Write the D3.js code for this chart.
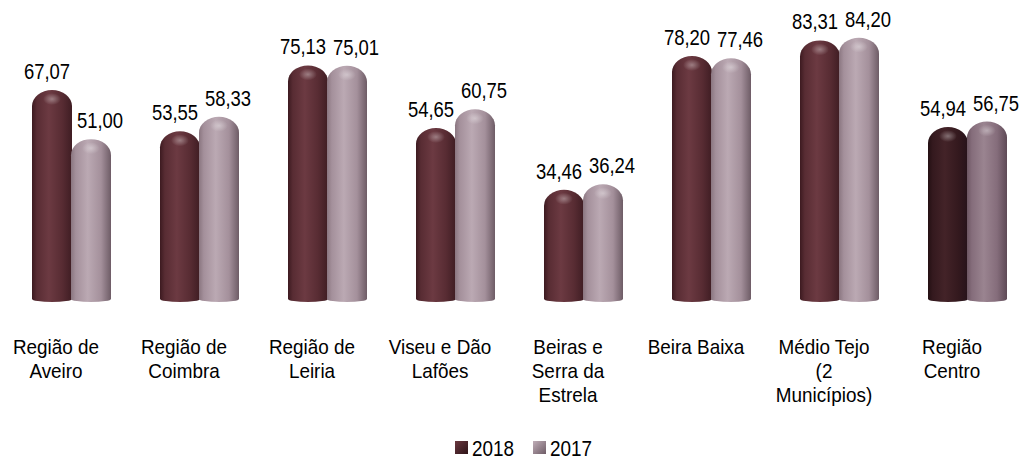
<!DOCTYPE html>
<html>
<head>
<meta charset="utf-8">
<script src="https://cdn.jsdelivr.net/npm/d3@7"></script>
<style>
  body { margin: 0; background: #fff; }
  text { font-family: "Liberation Sans", Arial, sans-serif; fill: #000; }
</style>
</head>
<body>
<div id="chart"></div>
<script>
// data
var categories = [
  ["Região de", "Aveiro"],
  ["Região de", "Coimbra"],
  ["Região de", "Leiria"],
  ["Viseu e Dão", "Lafões"],
  ["Beiras e", "Serra da", "Estrela"],
  ["Beira Baixa"],
  ["Médio Tejo", "(2", "Municípios)"],
  ["Região", "Centro"]
];
var series = ["2018", "2017"];
var values2018 = [67.07, 53.55, 75.13, 54.65, 34.46, 78.20, 83.31, 54.94];
var values2017 = [51.00, 58.33, 75.01, 60.75, 36.24, 77.46, 84.20, 56.75];

var width = 1027, height = 462;

var svg = d3.select("#chart").append("svg")
    .attr("width", width)
    .attr("height", height);

var defs = svg.append("defs");

// horizontal shading for the cylinders
function cylGrad(id, dark, base, light, edge) {
  var g = defs.append("linearGradient").attr("id", id)
      .attr("x1", "0%").attr("x2", "100%").attr("y1", "0%").attr("y2", "0%");
  g.append("stop").attr("offset", "0%").attr("stop-color", dark);
  g.append("stop").attr("offset", "12%").attr("stop-color", base);
  g.append("stop").attr("offset", "42%").attr("stop-color", light);
  g.append("stop").attr("offset", "75%").attr("stop-color", base);
  g.append("stop").attr("offset", "100%").attr("stop-color", edge);
}
cylGrad("g2018", "#3c1a20", "#582c33", "#6c3a42", "#3f1d23");
cylGrad("g2017", "#8a7680", "#a4909b", "#bba9b3", "#6e5c66");
cylGrad("g2018c", "#241013", "#34191e", "#432328", "#26121a");
cylGrad("g2017c", "#6c5662", "#856d7b", "#9a8490", "#5e4a56");

var spot = defs.append("radialGradient").attr("id", "spot")
    .attr("cx", "50%").attr("cy", "50%").attr("r", "50%");
spot.append("stop").attr("offset", "0%").attr("stop-color", "#fff").attr("stop-opacity", 0.35);
spot.append("stop").attr("offset", "100%").attr("stop-color", "#fff").attr("stop-opacity", 0);

var legGrad = defs.append("linearGradient").attr("id", "leg2018")
    .attr("x1", "0%").attr("x2", "100%").attr("y1", "0%").attr("y2", "100%");
legGrad.append("stop").attr("offset", "0%").attr("stop-color", "#6a3840");
legGrad.append("stop").attr("offset", "100%").attr("stop-color", "#2e1418");
var legGrad2 = defs.append("linearGradient").attr("id", "leg2017")
    .attr("x1", "0%").attr("x2", "100%").attr("y1", "0%").attr("y2", "100%");
legGrad2.append("stop").attr("offset", "0%").attr("stop-color", "#c0aeb8");
legGrad2.append("stop").attr("offset", "100%").attr("stop-color", "#6e5c66");

var idx = d3.range(categories.length);

var x = d3.scaleBand()
    .domain(idx)
    .range([7, 1031])
    .padding(0);

var xInner = d3.scaleBand()
    .domain(series)
    .range([-39, 39]);

var y = d3.scaleLinear()
    .domain([0, 100])
    .range([295, -10.6]);

var bottom = 302;
var bw = 40;
var labelShift = { "2018": -5, "2017": 9 };
var fmt = function(v) { return d3.format(".2f")(v).replace(".", ","); };

function barPath(x0, yt) {
  var x1 = x0 + bw, r = bw / 2, ry = 16;
  return "M" + x0 + "," + (bottom - 3) +
    "L" + x0 + "," + (yt + ry) +
    "A" + r + "," + ry + " 0 0 1 " + x1 + "," + (yt + ry) +
    "L" + x1 + "," + (bottom - 3) +
    "A" + r + ",3 0 0 1 " + x0 + "," + (bottom - 3) + "Z";
}

var rows = [];
idx.forEach(function(i) {
  rows.push({ i: i, s: "2018", v: values2018[i] });
  rows.push({ i: i, s: "2017", v: values2017[i] });
});

var bars = svg.append("g").selectAll("g.bar")
    .data(rows)
    .enter().append("g").attr("class", "bar");

bars.append("path")
    .attr("d", function(d) {
      var c = x(d.i) + x.bandwidth() / 2;
      return barPath(c + xInner(d.s), y(d.v));
    })
    .attr("fill", function(d) {
      var last = d.i === categories.length - 1;
      return "url(#g" + d.s + (last ? "c" : "") + ")";
    });

// small highlight on the dome
bars.append("ellipse")
    .attr("cx", function(d) { return x(d.i) + x.bandwidth() / 2 + xInner(d.s) + bw * 0.5; })
    .attr("cy", function(d) { return y(d.v) + 9; })
    .attr("rx", 9)
    .attr("ry", 6)
    .attr("fill", "url(#spot)");

bars.append("text")
    .attr("transform", function(d) {
      var cx = x(d.i) + x.bandwidth() / 2 + xInner(d.s) + bw / 2 + labelShift[d.s];
      return "translate(" + cx + "," + (y(d.v) - 11) + ") scale(0.84,1)";
    })
    .attr("text-anchor", "middle")
    .style("font-size", "22px")
    .text(function(d) { return fmt(d.v); });

// category labels
var cat = svg.append("g").selectAll("g.cat")
    .data(idx)
    .enter().append("g").attr("class", "cat")
    .attr("transform", function(i) {
      return "translate(" + (x(i) + x.bandwidth() / 2 - 15) + ",354)";
    });

cat.selectAll("text")
    .data(function(i) { return categories[i]; })
    .enter().append("text")
    .attr("transform", function(t, k) { return "translate(0," + (k * 24) + ") scale(0.9,1)"; })
    .attr("text-anchor", "middle")
    .style("font-size", "21px")
    .text(function(t) { return t; });

// legend
var legX = [455, 533];
var leg = svg.append("g").selectAll("g.leg")
    .data(series)
    .enter().append("g")
    .attr("transform", function(s, k) { return "translate(" + legX[k] + ",441)"; });

leg.append("rect")
    .attr("width", 13).attr("height", 13)
    .attr("fill", function(s) { return "url(#leg" + s + ")"; });

leg.append("text")
    .attr("transform", "translate(17,15) scale(0.86,1)")
    .style("font-size", "22px")
    .text(function(s) { return s; });
</script>
</body>
</html>
